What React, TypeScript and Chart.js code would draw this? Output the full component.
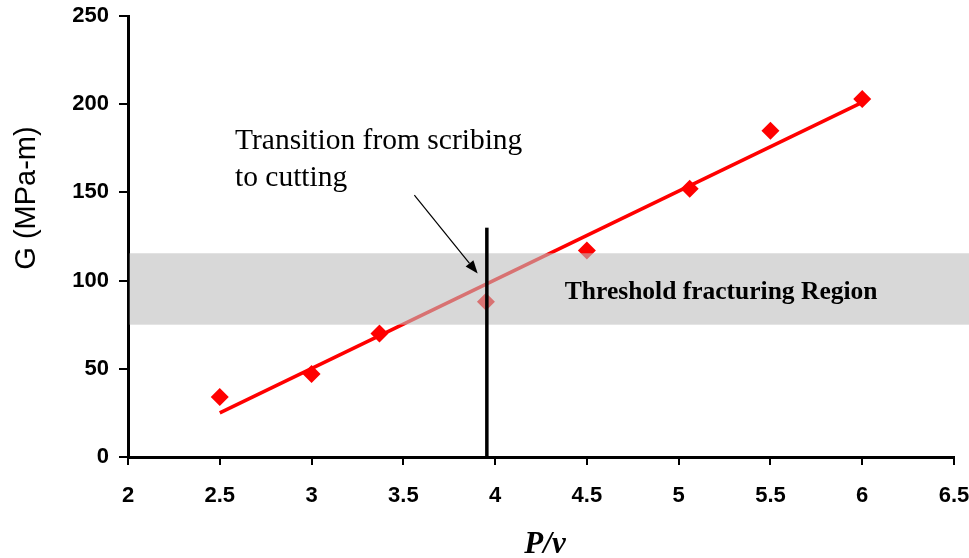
import React, { useEffect, useRef } from 'react';
import { Chart, registerables } from 'chart.js';

Chart.register(...registerables);

// ---- data ----
const measuredX = [2.5, 3, 3.37, 3.95, 4.5, 5.06, 5.5, 6];
const measuredG = [34, 47, 70, 88, 117, 152, 185, 203];
const trendX = [2.5, 6];
const trendG = [25, 201];
const xTickValues = [2, 2.5, 3, 3.5, 4, 4.5, 5, 5.5, 6, 6.5];
const yTickValues = [0, 50, 100, 150, 200, 250];
const bandRange = [75, 115.5];
const transitionX = 3.955;
const transitionTop = 130;
const arrowFrom = [3.56, 148.5];
const arrowTo = [3.905, 104];
const noteLines = ['Transition from scribing', 'to cutting'];
const noteAnchor = [2.583, 174.4];
const noteSecondLine = 153.5;
const regionLabel = 'Threshold fracturing Region';
const regionAnchor = [4.38, 89.4];
const xTitle = 'P/v';
const yTitle = 'G (MPa-m)';

const annotations = {
  id: 'annotations',
  afterDatasetsDraw(chart: any) {
    const { ctx, chartArea, scales } = chart;
    const xs = scales.x;
    const ys = scales.y;
    ctx.save();
    // translucent band over the data
    const bTop = ys.getPixelForValue(bandRange[1]);
    const bBot = ys.getPixelForValue(bandRange[0]);
    ctx.fillStyle = 'rgba(190,190,190,0.6)';
    ctx.fillRect(chartArea.left + 1.5, bTop, chart.width - chartArea.left - 1.5, bBot - bTop);

    // vertical transition line
    const vx = xs.getPixelForValue(transitionX);
    ctx.strokeStyle = '#000';
    ctx.lineWidth = 3.5;
    ctx.beginPath();
    ctx.moveTo(vx, ys.getPixelForValue(0));
    ctx.lineTo(vx, ys.getPixelForValue(transitionTop));
    ctx.stroke();

    // arrow
    const ax0 = xs.getPixelForValue(arrowFrom[0]);
    const ay0 = ys.getPixelForValue(arrowFrom[1]);
    const ax1 = xs.getPixelForValue(arrowTo[0]);
    const ay1 = ys.getPixelForValue(arrowTo[1]);
    const ang = Math.atan2(ay1 - ay0, ax1 - ax0);
    const headLen = 13;
    const headW = 5;
    const bx = ax1 - headLen * Math.cos(ang);
    const by = ay1 - headLen * Math.sin(ang);
    ctx.lineWidth = 1.2;
    ctx.beginPath();
    ctx.moveTo(ax0, ay0);
    ctx.lineTo(bx, by);
    ctx.stroke();
    ctx.fillStyle = '#000';
    ctx.beginPath();
    ctx.moveTo(ax1, ay1);
    ctx.lineTo(bx + headW * Math.sin(ang), by - headW * Math.cos(ang));
    ctx.lineTo(bx - headW * Math.sin(ang), by + headW * Math.cos(ang));
    ctx.closePath();
    ctx.fill();

    // texts
    ctx.fillStyle = '#000';
    ctx.textAlign = 'left';
    ctx.textBaseline = 'alphabetic';
    ctx.font = '29.5px "Liberation Serif", "Times New Roman", serif';
    ctx.fillText(noteLines[0], xs.getPixelForValue(noteAnchor[0]), ys.getPixelForValue(noteAnchor[1]));
    ctx.fillText(noteLines[1], xs.getPixelForValue(noteAnchor[0]), ys.getPixelForValue(noteSecondLine));
    ctx.font = 'bold 25.5px "Liberation Serif", "Times New Roman", serif';
    ctx.fillText(regionLabel, xs.getPixelForValue(regionAnchor[0]), ys.getPixelForValue(regionAnchor[1]));

    // y axis title
    ctx.save();
    ctx.translate(27, 198);
    ctx.rotate(-Math.PI / 2);
    ctx.textAlign = 'center';
    ctx.textBaseline = 'middle';
    ctx.font = '29px "Liberation Sans", Arial, sans-serif';
    ctx.fillText(yTitle, 0, 0);
    ctx.restore();

    // x axis title
    ctx.textAlign = 'center';
    ctx.textBaseline = 'alphabetic';
    ctx.font = 'italic bold 31px "Liberation Serif", "Times New Roman", serif';
    ctx.fillText(xTitle, 545, 553);
    ctx.restore();
  },
};

export default function App() {
  const ref = useRef<HTMLCanvasElement | null>(null);
  useEffect(() => {
    if (!ref.current) return;
    const tickFont = { family: '"Liberation Sans", Arial, sans-serif', size: 22, weight: 'bold' as const };
    const fmt = (v: any) => String(v);
    const chart = new Chart(ref.current, {
      type: 'scatter',
      data: {
        datasets: [
          {
            label: 'measured',
            data: measuredX.map((x, i) => ({ x, y: measuredG[i] })),
            backgroundColor: '#ff0000',
            borderColor: '#ff0000',
            pointStyle: 'rectRot',
            pointRadius: 9,
            borderWidth: 0,
            showLine: false,
            order: 1,
          },
          {
            label: 'trend',
            data: trendX.map((x, i) => ({ x, y: trendG[i] })),
            borderColor: '#ff0000',
            backgroundColor: '#ff0000',
            borderWidth: 3.5,
            pointRadius: 0,
            showLine: true,
            order: 2,
          },
        ],
      },
      options: {
        animation: false,
        responsive: true,
        maintainAspectRatio: false,
        layout: { padding: { top: 16, left: 0, right: 0, bottom: 0 } },
        plugins: { legend: { display: false }, tooltip: { enabled: false } },
        scales: {
          x: {
            type: 'linear',
            min: 2,
            max: 6.5,
            afterBuildTicks: (s: any) => {
              s.ticks = xTickValues.map((v) => ({ value: v }));
            },
            afterFit: (s: any) => {
              s.height = 101;
              s.paddingRight = 15;
            },
            ticks: { color: '#000', font: tickFont, padding: 18, maxRotation: 0, autoSkip: false, callback: fmt },
            grid: { drawOnChartArea: false, drawTicks: true, tickLength: 8, color: '#000', lineWidth: 2 },
            border: { display: true, color: '#000', width: 3 },
          },
          y: {
            type: 'linear',
            min: 0,
            max: 250,
            afterBuildTicks: (s: any) => {
              s.ticks = yTickValues.map((v) => ({ value: v }));
            },
            afterFit: (s: any) => {
              s.width = 128;
              s.paddingTop = 0;
              s.paddingBottom = 0;
            },
            ticks: { color: '#000', font: tickFont, padding: 10, callback: fmt },
            grid: { drawOnChartArea: false, drawTicks: true, tickLength: 9, color: '#000', lineWidth: 2 },
            border: { display: true, color: '#000', width: 3 },
          },
        },
      },
      plugins: [annotations],
    });
    return () => chart.destroy();
  }, []);
  return (
    <div style={{ position: 'fixed', left: 0, top: 0, width: 969, height: 558, background: '#fff' }}>
      <canvas ref={ref} />
    </div>
  );
}
